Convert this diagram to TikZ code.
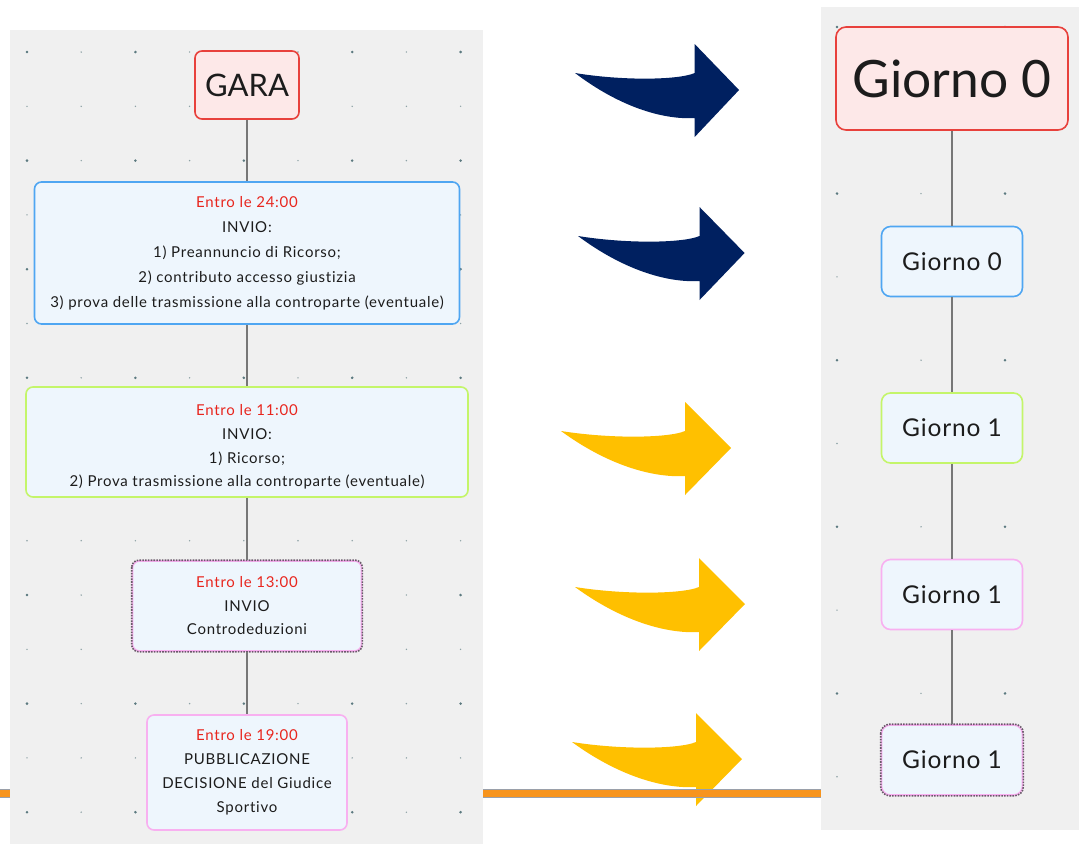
\documentclass[tikz,border=0pt]{standalone}
\usepackage{fontspec}
\setmainfont{Lato}
\newfontfamily\boxfont{Lato}[LetterSpace=5.0,Ligatures=NoCommon]
\newfontfamily\dayfont{Lato}[LetterSpace=3.5,Ligatures=NoCommon]
\usetikzlibrary{arrows.meta}

\definecolor{panelbg}{HTML}{F0F0F0}
\definecolor{dotc}{HTML}{5C7A80}
\definecolor{boxfill}{HTML}{EEF6FD}
\definecolor{rootfill}{HTML}{FDE8E8}
\definecolor{rootline}{HTML}{E8413C}
\definecolor{blueline}{HTML}{4FA6F2}
\definecolor{greenline}{HTML}{C4F56A}
\definecolor{pinkline}{HTML}{F8B0F0}
\definecolor{dashline}{HTML}{6A5A6A}
\definecolor{tred}{HTML}{E8261E}
\definecolor{ink}{HTML}{1C1C1C}
\definecolor{navy}{HTML}{002060}
\definecolor{gold}{HTML}{FFC000}
\definecolor{band}{HTML}{F7941D}
\definecolor{bandedge}{HTML}{9AA0AA}
\definecolor{connc}{HTML}{777777}

\tikzset{
  box/.style={draw, line width=1.6pt, rounded corners=7pt, fill=boxfill,
    align=center, inner sep=0pt, text=ink,
    font=\boxfont\fontsize{15}{24.5}\selectfont},
  boxtext/.style={align=center, inner sep=0pt, text=ink,
    font=\boxfont\fontsize{15}{23.7}\selectfont},
  rootbox/.style={box, draw=rootline, fill=rootfill},
  daybox/.style={box, rounded corners=9pt, minimum width=141pt, minimum height=70pt,
    font=\dayfont\fontsize{24.5}{28}\selectfont},
  conn/.style={draw=connc, line width=1.3pt},
  bigarrow/.pic={
    \fill[#1] (0,0) .. controls (50,8) and (108,7) .. (124,0)
      -- (124,-29) -- (170,17) -- (124,64) -- (124,45)
      .. controls (90,47) and (45,33) .. (0,0) -- cycle;
  }
}

\begin{document}
\begin{tikzpicture}[x=1pt,y=-1pt]
\useasboundingbox (0,0) rectangle (1079,844);
\fill[white] (0,0) rectangle (1079,844);

% curved block arrows
\pic[xscale=0.965] at (575,73)  {bigarrow=navy};
\pic[xscale=0.98] at (578,236) {bigarrow=navy};
\pic at (561,431) {bigarrow=gold};
\pic at (575,587) {bigarrow=gold};
\pic at (572,742) {bigarrow=gold};

% orange band across the page
\fill[bandedge] (0,789) rectangle (1079,797.5);
\fill[band] (0,789.9) rectangle (1079,796.6);

% left map canvas with dot grid
\fill[panelbg] (10,30) rectangle (483,844);
\foreach \i in {0,...,8}{\foreach \j in {0,...,14}{
  \fill[dotc!70] (27+54.2*\i,52+54.3*\j) circle (0.8pt);}}
\foreach \i in {0,2,...,8}{\foreach \j in {0,2,...,14}{
  \fill[dotc] (27+54.2*\i,52+54.3*\j) circle (1.4pt);}}

% right map canvas with dot grid
\fill[panelbg] (821,7) rectangle (1079,830);
\foreach \i in {0,1,2}{\foreach \j in {0,...,9}{
  \fill[dotc!70] (837+84*\i,27+83.3*\j) circle (0.8pt);}}
\foreach \i in {0,2}{\foreach \j in {0,2,...,8}{
  \fill[dotc] (837+84*\i,27+83.3*\j) circle (1.4pt);}}

% left timeline
\node[rootbox, minimum width=104pt, minimum height=68pt,
  font=\fontsize{31}{34}\selectfont] (gara) at (247,85) {GARA};
\node[box, draw=blueline, minimum width=425pt, minimum height=142pt,
  font=\boxfont\fontsize{15}{25}\selectfont] (b1) at (247,253)
  {\textcolor{tred}{Entro le 24:00}\\INVIO:\\1) Preannuncio di Ricorso;\\2) contributo accesso giustizia\\3) prova delle trasmissione alla controparte (eventuale)};
\node[box, draw=greenline, minimum width=442pt, minimum height=110pt] (b2) at (247,442) {};
\node[boxtext] (b2t) at (247,447)
  {\textcolor{tred}{Entro le 11:00}\\INVIO:\\1) Ricorso;\\2) Prova trasmissione alla controparte (eventuale)};
\node[box, draw=pinkline, minimum width=229pt, minimum height=90pt,
  font=\boxfont\fontsize{15}{23.5}\selectfont] (b3) at (247,606)
  {\textcolor{tred}{Entro le 13:00}\\INVIO\\Controdeduzioni};
\draw[dashline, line width=1.6pt, dash pattern=on 1.6pt off 1.2pt, rounded corners=7pt]
  (b3.north west) rectangle (b3.south east);
\node[box, draw=pinkline, minimum width=200pt, minimum height=115pt,
  font=\boxfont\fontsize{15}{24}\selectfont] (b4) at (247,772.5)
  {\textcolor{tred}{Entro le 19:00}\\PUBBLICAZIONE\\DECISIONE del Giudice\\Sportivo};

\draw[conn] (gara) -- (b1);
\draw[conn] (b1) -- (b2);
\draw[conn] (b2) -- (b3);
\draw[conn] (b3) -- (b4);

% right timeline
\node[rootbox, rounded corners=10pt, minimum width=232pt, minimum height=103pt,
  font=\fontsize{51.5}{55}\selectfont] (d0) at (952,78.5) {Giorno 0};
\node[daybox, draw=blueline] (d1) at (952,261.5) {Giorno 0};
\node[daybox, draw=greenline] (d2) at (952,428) {Giorno 1};
\node[daybox, draw=pinkline] (d3) at (952,594.5) {Giorno 1};
\node[daybox, draw=pinkline] (d4) at (952,760) {Giorno 1};
\draw[dashline, line width=1.6pt, dash pattern=on 1.6pt off 1.2pt, rounded corners=9pt]
  (d4.north west) rectangle (d4.south east);

\draw[conn] (d0) -- (d1);
\draw[conn] (d1) -- (d2);
\draw[conn] (d2) -- (d3);
\draw[conn] (d3) -- (d4);
\end{tikzpicture}
\end{document}
